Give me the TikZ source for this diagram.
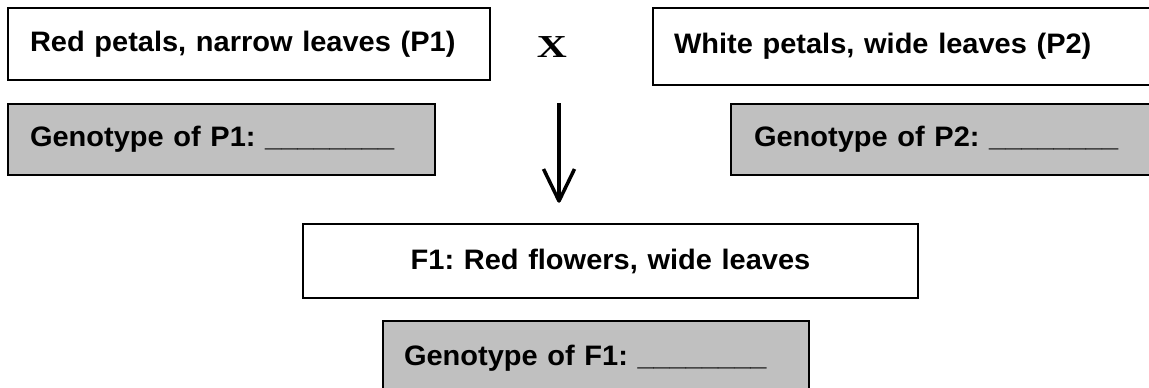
\documentclass[tikz,border=0pt]{standalone}
\usepackage{graphicx}
\usepackage{fontspec}
\setmainfont{Liberation Sans}
\newfontfamily\xfont{Liberation Serif}
\usetikzlibrary{arrows.meta}
\definecolor{boxgray}{HTML}{C0C0C0}
\newcommand{\sq}[1]{\scalebox{1}[0.97]{#1}}
\frenchspacing
\begin{document}
\begin{tikzpicture}[x=1pt,y=-1pt,
  base/.style={draw=black, line width=2pt, rectangle, anchor=north west, inner ysep=0pt,
    font=\fontsize{29}{34}\selectfont\bfseries},
  wbox/.style={base, fill=white},
  gbox/.style={base, fill=boxgray},
  leftbox/.style={align=left},
  connector/.style={line width=3.5pt, line join=round},
]
\useasboundingbox (0,0) rectangle (1149,388);
% parents
\node[wbox, leftbox, inner xsep=22pt, text width=438pt, minimum height=72pt] (p1) at (7,7)
  {\sq{Red petals, narrow leaves (P1)}};
\node[wbox, leftbox, inner xsep=21pt, text width=461pt, minimum height=77pt] (p2) at (652,7)
  {\sq{White petals, wide leaves (P2)}};
% cross sign
\node[font=\fontsize{32}{34}\selectfont\xfont\bfseries, inner sep=0pt] (cross) at (552,47.5)
  {\scalebox{1.3}[1]{X}};
% genotype boxes
\node[gbox, leftbox, inner xsep=22pt, text width=383pt, minimum height=71pt] (g1) at (7,103)
  {\sq{Genotype of P1: \_\_\_\_\_\_\_\_}};
\node[gbox, leftbox, inner xsep=23pt, text width=379pt, minimum height=71pt] (g2) at (730,103)
  {\sq{Genotype of P2: \_\_\_\_\_\_\_\_}};
% offspring
\node[wbox, align=center, text width=615pt, inner xsep=0pt, minimum height=74pt] (f1) at (302,223)
  {\sq{F1: Red flowers, wide leaves}};
\node[gbox, leftbox, inner xsep=21pt, text width=384pt, minimum height=74pt] (gf) at (382,320)
  {\sq{Genotype of F1: \_\_\_\_\_\_\_\_}};
% arrow
\coordinate (arrtop) at (559,103);
\coordinate (arrend) at (559,201);
\draw[connector] (arrtop) -- (arrend);
\draw[connector] (arrend) ++(-15.5,-32) -- (arrend) -- ++(15.5,-32);
\end{tikzpicture}
\end{document}
